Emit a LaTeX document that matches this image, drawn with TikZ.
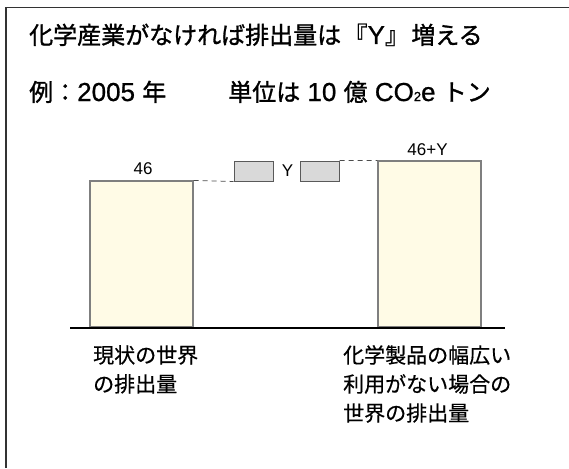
\documentclass[tikz,border=0pt]{standalone}
\usepackage{fontspec}
\setmainfont{Noto Sans CJK JP}
\newfontfamily\latinfont{Liberation Sans}
\newfontfamily\headfont{Noto Sans CJK JP}[FakeBold=1.2]
\newfontfamily\headlatin{Liberation Sans}[FakeBold=0.8]
\newfontfamily\labelfont{Noto Sans CJK JP}[FakeBold=0.5]
\newcommand\hl[1]{{\headlatin\fontsize{26}{28}\selectfont #1}}
\definecolor{barfill}{HTML}{FFFBE6}
\definecolor{barline}{HTML}{7F7F7F}
\definecolor{boxfill}{HTML}{D9D9D9}
\definecolor{boxline}{HTML}{595959}
\begin{document}
\begin{tikzpicture}[x=1pt,y=-1pt,
 bar/.style={draw=barline, fill=barfill, line width=1.2pt, inner sep=0pt, minimum width=103pt},
 ybox/.style={draw=boxline, fill=boxfill, line width=1pt, inner sep=0pt, minimum width=39pt, minimum height=20pt},
 num/.style={font=\latinfont\fontsize{17}{19}\selectfont, inner sep=0pt},
 lbl/.style={font=\labelfont\fontsize{21}{29}\selectfont, align=left, inner sep=0pt, anchor=north west},
 ttl/.style={font=\headfont\fontsize{24}{28}\selectfont, inner sep=0pt, anchor=base west},
 leader/.style={dash pattern=on 5pt off 4pt, draw=black!70, line width=0.8pt}
]
\useasboundingbox (0,0) rectangle (569,468);
\draw[line width=1.5pt, draw=black!80] (6,468) -- (6,7.5) -- (569,7.5);

\node[ttl] (title) at (29,44) {化学産業がなければ排出量は\hspace{0.1em}『\hl{Y}』\hspace{0.1em}増える};
\node[ttl] (unit) at (29,101) {例：\hl{2005 }年\hspace{62pt}単位は\hl{ 10 }億\hl{ CO{\fontsize{13}{13}\selectfont 2}e }トン};

\node[bar, minimum height=146pt] (lbar) at (141.5,254) {};
\node[bar, minimum height=166pt] (rbar) at (429.5,244) {};
\node[ybox] (box1) at (253.5,171) {};
\node[ybox] (box2) at (319.5,171) {};

\draw[leader] (lbar.north east) -- (box1.south west);
\draw[leader] (box2.north east) -- (rbar.north west);

\node[num, anchor=base] (v46) at (143,174) {46};
\node[num, anchor=base] (v46y) at (427.5,155) {46+Y};
\node[num] (vy) at (287.5,171) {Y};

\coordinate (b0) at (70,328);
\coordinate (b1) at (505,328);
\draw[line width=2.2pt] (b0) -- (b1);

\node[lbl] (llbl) at (93,345) {現状の世界\\の排出量};
\node[lbl] (rlbl) at (343,345) {化学製品の幅広い\\利用がない場合の\\世界の排出量};
\end{tikzpicture}
\end{document}
